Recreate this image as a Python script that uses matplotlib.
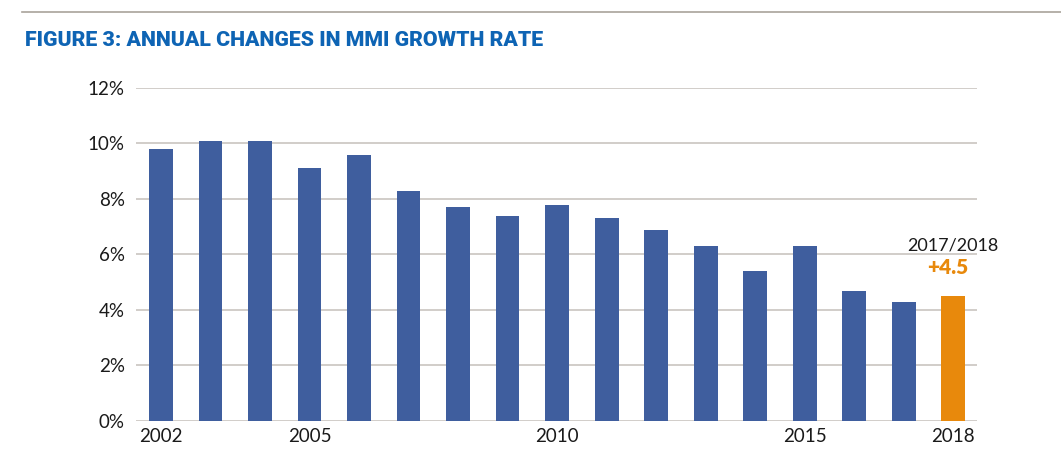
import numpy as np
import matplotlib.pyplot as plt
from matplotlib.lines import Line2D

years = list(range(2002, 2019))
growth = [9.8, 10.1, 10.1, 9.1, 9.6, 8.3, 7.7, 7.4, 7.8, 7.3, 6.9, 6.3, 5.4, 6.3, 4.7, 4.3, 4.5]
tick_years = [2002, 2005, 2010, 2015, 2018]
y_ticks = [0, 2, 4, 6, 8, 10, 12]

BLUE = '#3F5E9E'
ORANGE = '#E8890C'
GRID = '#C9C5C0'

plt.rcParams['font.family'] = ['Lato', 'DejaVu Sans']

fig = plt.figure(figsize=(10.61, 4.58), dpi=100)
ax = fig.add_axes([0.1282, 0.0808, 0.7926, 0.7271])

x = np.arange(len(years))
colors = [BLUE] * (len(years) - 1) + [ORANGE]
ax.bar(x, growth, width=0.48, color=colors, zorder=3)

ax.set_xlim(-0.505, 16.48)
ax.set_ylim(0, 12)
ax.set_yticks(y_ticks)
ax.set_yticklabels(["{}%".format(v) for v in y_ticks], fontsize=13.5, color='#1a1a1a')
ax.set_xticks([years.index(t) for t in tick_years])
ax.set_xticklabels([str(t) for t in tick_years], fontsize=13.5, color='#1a1a1a')
ax.tick_params(length=0, pad=8)
ax.tick_params(axis='x', pad=5)
ax.yaxis.grid(True, color=GRID, linewidth=1.2, zorder=0)
for s in ax.spines.values():
    s.set_visible(False)

# annotation over last bar
ax.text(x[-1], 6.05, "2017/2018", ha='center', va='bottom', fontsize=13, color='#1a1a1a')
ax.text(x[-1] - 0.12, 5.2, "+{}".format(growth[-1]), ha='center', va='bottom',
        fontsize=15, fontweight='heavy', color=ORANGE)

# header
fig.add_artist(Line2D([22 / 1061, 1], [1 - 12 / 458, 1 - 12 / 458],
                      color='#A9A39B', linewidth=1.2))
fig.text(25 / 1061, 1 - 40 / 458, "FIGURE 3: ANNUAL CHANGES IN MMI GROWTH RATE",
         fontsize=15.3, fontweight=900, color='#0E64B4', va='center',
         family=['Roboto', 'DejaVu Sans'])

plt.savefig('out.png', dpi=100)
